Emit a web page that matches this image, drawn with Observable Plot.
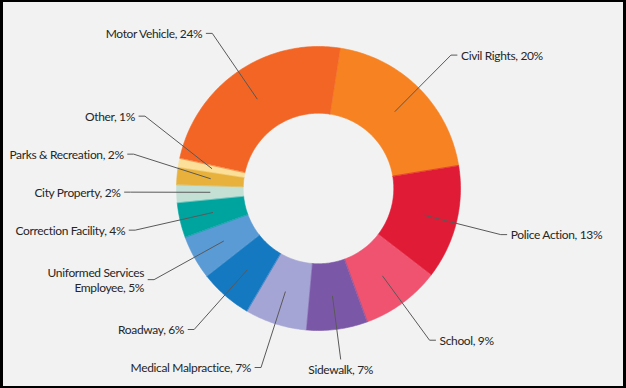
<!DOCTYPE html>
<html><head><meta charset="utf-8">
<script src="https://cdn.jsdelivr.net/npm/d3@7"></script>
<script src="https://cdn.jsdelivr.net/npm/@observablehq/plot@0.6"></script>
<style>
html,body{margin:0;padding:0;background:#fff;}
#chart{width:626px;height:388px;box-sizing:border-box;border-style:solid;border-color:#000;border-width:2px 3px 2px 3px;background:#f2f2f2;overflow:hidden;}
#chart svg{display:block;}
#chart svg text{letter-spacing:-0.35px;}
</style></head><body><div id="chart"></div>
<script>
// ---- data ----
const categories = ["Civil Rights","Police Action","School","Sidewalk","Medical Malpractice","Roadway","Uniformed Services Employee","Correction Facility","City Property","Parks & Recreation","Other","Motor Vehicle"];
const shares = [20,13,9,7,7,6,5,4,2,2,1,24];
const colors = ["#F68221","#E01B36","#F0536F","#7B58A7","#A4A4D5","#1479C1","#5B9BD5","#00A49F","#C4E0D5","#E8B13B","#FCE09A","#F26524"];

// ---- layout ----
const W = 620, H = 384;
const R = 142;            // outer radius (px)
const cxPx = 315, cyPx = 186;
const innerRatio = 0.53;
const startDeg = 8.8;
const TAU = Math.PI * 2;

const rows = categories.map((c, i) => ({category: c, share: shares[i], color: colors[i]}));
const a0 = startDeg * Math.PI / 180;
const arcs = d3.pie().value(d => d.share).sort(null).startAngle(a0).endAngle(a0 + TAU)(rows);

const slicePts = [];
for (const a of arcs) {
  const n = Math.max(6, Math.ceil((a.endAngle - a.startAngle) / TAU * 360));
  for (let i = 0; i <= n; i++) {
    const t = a.startAngle + (a.endAngle - a.startAngle) * i / n;
    slicePts.push({name: a.data.category, color: a.data.color, x: Math.sin(t), y: -Math.cos(t)});
  }
  for (let i = n; i >= 0; i--) {
    const t = a.startAngle + (a.endAngle - a.startAngle) * i / n;
    slicePts.push({name: a.data.category, color: a.data.color, x: innerRatio * Math.sin(t), y: -innerRatio * Math.cos(t)});
  }
}

function wrap(s) {
  if (s.length <= 26) return s;
  const words = s.split(" "); let lines = [], cur = "";
  for (const w of words) {
    if (cur && (cur + " " + w).length > 20) { lines.push(cur); cur = w; }
    else cur = cur ? cur + " " + w : w;
  }
  lines.push(cur);
  return lines.join("\n");
}

const labelR = 188 / R, midR = (1 + innerRatio) / 2, bottomR = 172 / R;
const stub = 6 / R, gap = 4 / R, minGap = 38 / R;

const labels = arcs.map(a => {
  const m = (a.startAngle + a.endAngle) / 2;
  const s = Math.sin(m), c = -Math.cos(m);
  const side = Math.abs(s) < 0.2 ? "bottom" : (s < 0 ? "left" : "right");
  return {name: a.data.category, text: wrap(`${a.data.category}, ${a.data.share}%`),
    px: midR * s, py: midR * c, cx: labelR * s, cy: labelR * c, side, s, c};
});

for (const side of ["left", "right"]) {
  const L = labels.filter(d => d.side === side).sort((p, q) => q.cy - p.cy);
  for (let i = 1; i < L.length; i++) {
    if (L[i].cy > L[i - 1].cy - minGap) {
      L[i].cy = L[i - 1].cy - minGap;
      if (Math.abs(L[i].cy) < labelR) L[i].cx = (side === "left" ? -1 : 1) * Math.sqrt(labelR * labelR - L[i].cy * L[i].cy);
    }
  }
}

const leaderPts = [];
for (const d of labels) {
  if (d.side === "bottom") {
    const ex = bottomR * d.s, ey = bottomR * d.c;
    leaderPts.push({name: d.name, x: d.px, y: d.py}, {name: d.name, x: ex, y: ey});
    d.tx = ex; d.ty = ey + gap;
  } else {
    const dir = d.side === "left" ? -1 : 1;
    leaderPts.push({name: d.name, x: d.px, y: d.py}, {name: d.name, x: d.cx, y: d.cy}, {name: d.name, x: d.cx + dir * stub, y: d.cy});
    d.tx = d.cx + dir * (stub + gap); d.ty = d.cy;
  }
}

const textStyle = {fill: "#262626", fontSize: 12, lineHeight: 1.25};
const chart = Plot.plot({
  width: W, height: H, margin: 0,
  x: {domain: [-cxPx / R, (W - cxPx) / R], range: [0, W], axis: null},
  y: {domain: [-cyPx / R, (H - cyPx) / R], range: [0, H], axis: null},
  color: {type: "identity"},
  style: {background: "transparent", fontFamily: "Lato, 'Open Sans', sans-serif", fontSize: "12px"},
  marks: [
    Plot.line(slicePts, {x: "x", y: "y", z: "name", fill: "color", stroke: "color", strokeWidth: 0.6, curve: "linear-closed"}),
    Plot.line(leaderPts, {x: "x", y: "y", z: "name", stroke: "#595959", strokeWidth: 1}),
    Plot.text(labels.filter(d => d.side === "left"), {x: "tx", y: "ty", text: "text", textAnchor: "end", ...textStyle}),
    Plot.text(labels.filter(d => d.side === "right"), {x: "tx", y: "ty", text: "text", textAnchor: "start", ...textStyle}),
    Plot.text(labels.filter(d => d.side === "bottom"), {x: "tx", y: "ty", text: "text", textAnchor: "middle", lineAnchor: "top", ...textStyle})
  ]
});
document.getElementById("chart").appendChild(chart);
</script>
</body></html>
